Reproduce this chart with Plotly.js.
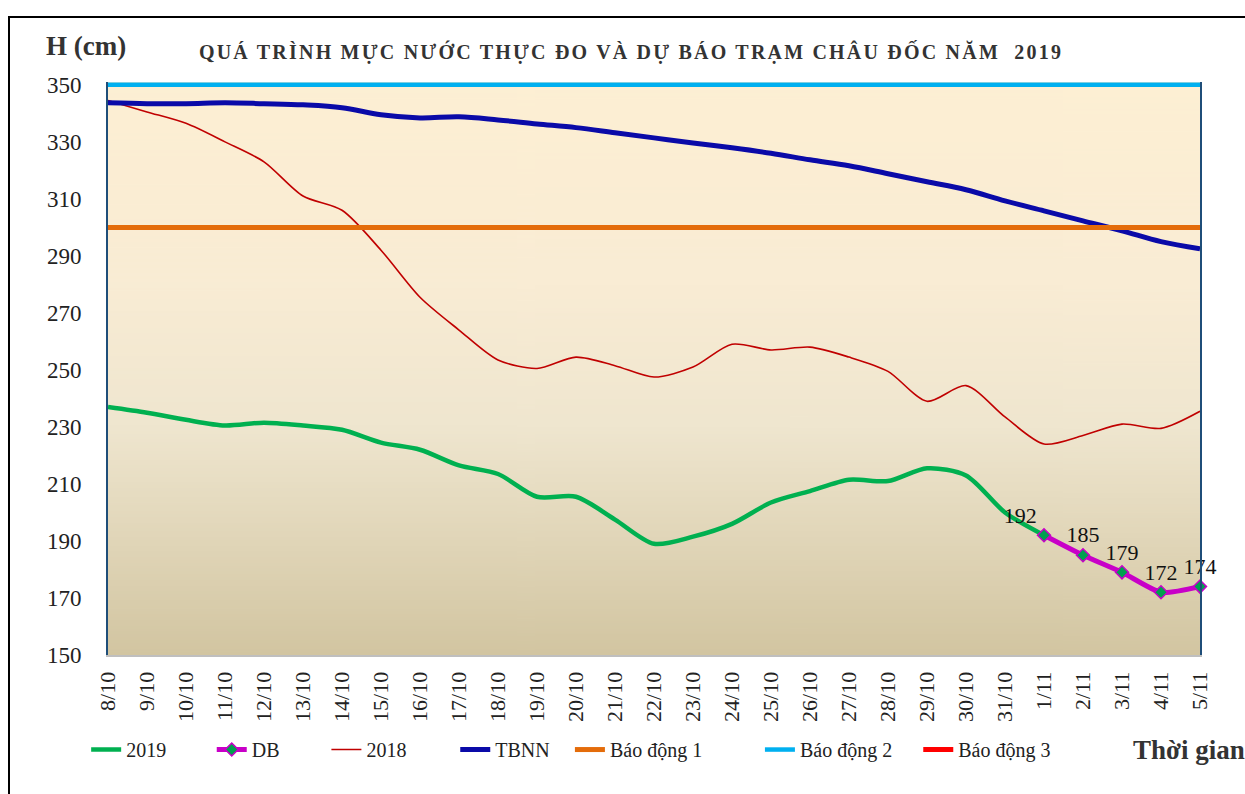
<!DOCTYPE html>
<html>
<head>
<meta charset="utf-8">
<script src="https://cdn.plot.ly/plotly-3.0.1.min.js"></script>
<style>
  body { margin: 0; background: #fff; }
  #frame { position: absolute; left: 8px; top: 16px; width: 1300px; height: 900px;
           border-left: 2px solid #000; border-top: 2px solid #000; pointer-events: none; }
  #chart { width: 1245px; height: 794px; }
  .gtitle { letter-spacing: 2.2px; }
</style>
</head>
<body>
<div id="chart"></div>
<div id="frame"></div>
<script>
// ngay quan trac
const days = ["8/10", "9/10", "10/10", "11/10", "12/10", "13/10", "14/10", "15/10", "16/10",
  "17/10", "18/10", "19/10", "20/10", "21/10", "22/10", "23/10", "24/10", "25/10", "26/10",
  "27/10", "28/10", "29/10", "30/10", "31/10", "1/11", "2/11", "3/11", "4/11", "5/11"];

// muc nuoc thuc do 2019 (den 1/11)
const h2019 = [237, 235, 232.5, 230.5, 231.5, 230.5, 229, 224.5, 222, 216.5, 213.5, 205.5,
  205.5, 197.5, 189, 191.5, 196, 203.5, 207.5, 211.5, 211, 215.5, 213, 200, 192];

// du bao
const dbDays = ["1/11", "2/11", "3/11", "4/11", "5/11"];
const hDB = [192, 185, 179, 172, 174];

const h2018 = [344.5, 340.5, 336.5, 330, 323, 311, 306, 292, 275.5, 264, 253.5, 250.5,
  254.5, 251.5, 247.5, 251, 259, 257, 258, 254.5, 249.5, 239, 244.5, 233.5, 224, 227,
  231, 229.5, 235.5];

const tbnn = [343.7, 343.4, 343.4, 343.7, 343.4, 343, 342, 339.5, 338.4, 338.8, 337.7,
  336.3, 335, 333.2, 331.4, 329.6, 327.9, 326, 323.7, 321.6, 318.8, 316, 313.2, 309.3,
  305.8, 302.3, 298.8, 295, 292.5];

const bd1 = 300, bd2 = 350, bd3 = 360;

// nen chuyen mau
const cv = document.createElement("canvas");
cv.width = 4; cv.height = 400;
const ctx = cv.getContext("2d");
const grd = ctx.createLinearGradient(0, 0, 0, 400);
grd.addColorStop(0, "#FDEFD3");
grd.addColorStop(0.35, "#F9ECD4");
grd.addColorStop(0.6, "#EFE6CF");
grd.addColorStop(1, "#D2C5A1");
ctx.fillStyle = grd;
ctx.fillRect(0, 0, 4, 400);
const bgImg = cv.toDataURL("image/png");

const flat = v => days.map(() => v);
const serif = '"Liberation Serif", "Times New Roman", serif';

const traces = [
  { x: days.slice(0, h2019.length), y: h2019, name: "2019", type: "scatter", mode: "lines",
    line: { color: "#00B050", width: 4.5, shape: "spline", smoothing: 0.8 } },
  { x: dbDays, y: hDB, name: "DB", type: "scatter", mode: "lines+markers+text", legend: "legend2",
    line: { color: "#C800C8", width: 5, shape: "spline", smoothing: 0.6 },
    marker: { symbol: "diamond", size: 10, color: "#00A050", line: { color: "#C800C8", width: 1.5 } },
    text: hDB.map(String),
    textposition: ["top left", "top center", "top center", "top center", "top center"],
    textfont: { family: serif, size: 22, color: "#111" },
    cliponaxis: false },
  { x: days, y: h2018, name: "2018", type: "scatter", mode: "lines", legend: "legend3",
    line: { color: "#C00000", width: 1.6, shape: "spline", smoothing: 0.8 } },
  { x: days, y: tbnn, name: "TBNN", type: "scatter", mode: "lines", legend: "legend4",
    line: { color: "#0A0AA8", width: 5, shape: "spline" } },
  { x: days, y: flat(bd1), name: "Báo động 1", type: "scatter", mode: "lines", legend: "legend5",
    line: { color: "#E46C0A", width: 5 } },
  { x: days, y: flat(bd2), name: "Báo động 2", type: "scatter", mode: "lines", legend: "legend6",
    line: { color: "#00B0F0", width: 4.5 } },
  { x: days, y: flat(bd3), name: "Báo động 3", type: "scatter", mode: "lines", legend: "legend7",
    line: { color: "#FF0000", width: 5 } }
];

const legendX = [-0.02, 0.095, 0.2, 0.318, 0.423, 0.597, 0.742];
const mkLegend = x => ({
  orientation: "h", x: x, xanchor: "left", y: -0.165, yanchor: "middle",
  font: { family: serif, size: 20, color: "#222" }, bgcolor: "rgba(0,0,0,0)"
});

const layout = {
  width: 1245, height: 794,
  margin: { l: 108, r: 45, t: 82, b: 139 },
  paper_bgcolor: "#fff",
  plot_bgcolor: "rgba(0,0,0,0)",
  font: { family: serif, color: "#222" },
  showlegend: true,
  title: {
    text: "<b>QUÁ TRÌNH MỰC NƯỚC THỰC ĐO VÀ DỰ BÁO TRẠM CHÂU ĐỐC NĂM  2019</b>",
    font: { family: serif, size: 20, color: "#333" },
    x: 0.479, xref: "paper", y: 0.934, yanchor: "middle"
  },
  xaxis: {
    type: "category", range: [0, days.length - 1],
    tickangle: -90, tickfont: { family: serif, size: 22, color: "#222" },
    showgrid: false, zeroline: false,
    showline: true, linecolor: "#BFBFBF", linewidth: 2,
    ticks: "", ticklabelstandoff: 6
  },
  yaxis: {
    range: [150, 351], tickvals: [150, 170, 190, 210, 230, 250, 270, 290, 310, 330, 350],
    tickfont: { family: serif, size: 23, color: "#222" },
    showgrid: false, zeroline: false,
    showline: true, mirror: true, linecolor: "#1F4E79", linewidth: 2,
    ticks: "", ticklabelstandoff: 20
  },
  images: [{
    source: bgImg, xref: "paper", yref: "paper", x: 0, y: 1, sizex: 1, sizey: 1,
    sizing: "stretch", layer: "below", xanchor: "left", yanchor: "top"
  }],
  annotations: [
    { text: "<b>H (cm)</b>", xref: "paper", yref: "paper", x: -0.02, y: 1.062,
      xanchor: "center", yanchor: "middle", showarrow: false,
      font: { family: serif, size: 27, color: "#333" } },
    { text: "<b>Thời gian</b>", xref: "paper", yref: "paper", x: 0.99, y: -0.165,
      xanchor: "center", yanchor: "middle", showarrow: false,
      font: { family: serif, size: 27, color: "#333" } }
  ]
};
layout.legend = mkLegend(legendX[0]);
for (let i = 1; i < legendX.length; i++) layout["legend" + (i + 1)] = mkLegend(legendX[i]);

Plotly.newPlot("chart", traces, layout, { displayModeBar: false, staticPlot: true });
</script>
</body>
</html>
